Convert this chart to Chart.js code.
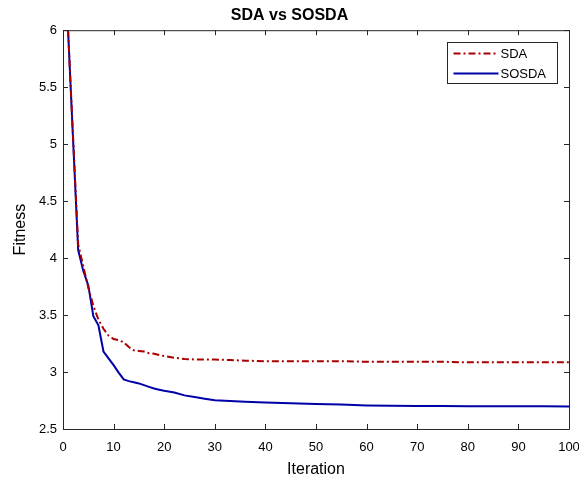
<!DOCTYPE html>
<html>
<head>
<meta charset="utf-8">
<script src="https://cdn.jsdelivr.net/npm/chart.js@4"></script>
<style>
html,body{margin:0;padding:0;background:#fff;}
#wrap{width:579px;height:479px;position:relative;}
</style>
</head>
<body>
<div id="wrap"><canvas id="c" width="579" height="479"></canvas></div>
<script>
const iterations = [1,2,3,4,5,6,7,8,9,10,11,12,13,14,15,16,17,18,19,20,22,24,26,28,30,33,36,40,45,50,55,60,65,70,75,80,85,90,95,100];
const sdaValues = [6.0,5.05,4.12,3.93,3.74,3.58,3.46,3.38,3.32,3.29,3.28,3.26,3.22,3.19,3.185,3.18,3.165,3.16,3.15,3.14,3.125,3.115,3.11,3.11,3.11,3.105,3.10,3.095,3.095,3.095,3.095,3.09,3.09,3.09,3.09,3.085,3.085,3.085,3.085,3.085];
const sosdaValues = [6.0,5.03,4.07,3.89,3.76,3.49,3.41,3.18,3.12,3.06,2.995,2.935,2.92,2.91,2.90,2.885,2.87,2.855,2.845,2.835,2.82,2.795,2.78,2.765,2.752,2.745,2.74,2.732,2.726,2.72,2.715,2.707,2.703,2.702,2.701,2.70,2.70,2.70,2.699,2.697];
const xTicks = [0,10,20,30,40,50,60,70,80,90,100];
const yTicks = [2.5,3,3.5,4,4.5,5,5.5,6];
const seriesNames = ['SDA','SOSDA'];

const RED = '#a80000';
const BLUE = '#0000a8';
const AXIS = '#262626';
const FONT = "'Liberation Sans', Arial, sans-serif";

const toPts = vals => iterations.map((x,i)=>({x:x,y:vals[i]}));

const boxPlugin = {
  id:'boxPlugin',
  afterDatasetsDraw(chart){
    const {ctx, chartArea:a, scales:{x,y}} = chart;
    ctx.save();
    ctx.strokeStyle = AXIS;
    ctx.lineWidth = 1;
    ctx.beginPath();
    ctx.rect(a.left+0.5, a.top+0.5, a.right-a.left, a.bottom-a.top);
    ctx.stroke();
    const L = 5;
    ctx.beginPath();
    xTicks.forEach(v=>{
      const px = Math.round(x.getPixelForValue(v))+0.5;
      ctx.moveTo(px, a.bottom); ctx.lineTo(px, a.bottom-L);
      ctx.moveTo(px, a.top); ctx.lineTo(px, a.top+L);
    });
    yTicks.forEach(v=>{
      const py = Math.round(y.getPixelForValue(v))+0.5;
      ctx.moveTo(a.left, py); ctx.lineTo(a.left+L, py);
      ctx.moveTo(a.right, py); ctx.lineTo(a.right-L, py);
    });
    ctx.stroke();
    // legend
    const bx = 447.5, by = 42.5, bw = 110, bh = 41;
    ctx.fillStyle = '#fff';
    ctx.fillRect(bx, by, bw, bh);
    ctx.strokeStyle = AXIS;
    ctx.strokeRect(bx, by, bw, bh);
    chart.data.datasets.forEach((ds,i)=>{
      const ly = by + 11 + i*20;
      ctx.strokeStyle = ds.borderColor;
      ctx.lineWidth = 2;
      ctx.setLineDash(ds.borderDash || []);
      ctx.beginPath();
      ctx.moveTo(bx+6, ly); ctx.lineTo(bx+51, ly);
      ctx.stroke();
      ctx.setLineDash([]);
      ctx.fillStyle = '#000';
      ctx.font = '13px ' + FONT;
      ctx.textBaseline = 'middle';
      ctx.textAlign = 'left';
      ctx.fillText(ds.label, bx+53, ly+1);
    });
    ctx.restore();
  }
};

new Chart(document.getElementById('c'), {
  type:'line',
  data:{
    datasets:[
      {label:seriesNames[0], data:toPts(sdaValues), borderColor:RED, borderWidth:2, borderDash:[7,3,2,3], pointRadius:0, tension:0, fill:false},
      {label:seriesNames[1], data:toPts(sosdaValues), borderColor:BLUE, borderWidth:2, pointRadius:0, tension:0, fill:false}
    ]
  },
  options:{
    responsive:false,
    animation:false,
    devicePixelRatio:1,
    layout:{padding:{left:0,right:0,top:0,bottom:0}},
    plugins:{
      legend:{display:false},
      tooltip:{enabled:false},
      title:{display:true, text:'SDA vs SOSDA', color:'#000', font:{family:FONT, size:16, weight:'bold'}, padding:{top:6,bottom:5}}
    },
    scales:{
      x:{
        type:'linear', min:0, max:100,
        afterBuildTicks(s){ s.ticks = xTicks.map(v=>({value:v})); },
        afterFit(s){ s.height = 50; s.paddingRight = 10; s.paddingLeft = 0; },
        grid:{display:false, drawTicks:false},
        border:{display:false},
        ticks:{color:'#000', padding:11, maxRotation:0, font:{family:FONT, size:13}},
        title:{display:true, text:'Iteration', color:'#000', font:{family:FONT, size:16}, padding:{top:2,bottom:0}}
      },
      y:{
        type:'linear', min:2.5, max:6,
        afterBuildTicks(s){ s.ticks = yTicks.map(v=>({value:v})); },
        afterFit(s){ s.width = 63; },
        grid:{display:false, drawTicks:false},
        border:{display:false},
        ticks:{color:'#000', padding:6, font:{family:FONT, size:13}, callback:v=>String(v)},
        title:{display:true, text:'Fitness', color:'#000', font:{family:FONT, size:16}, padding:{top:11,bottom:4}}
      }
    }
  },
  plugins:[boxPlugin]
});
</script>
</body>
</html>
